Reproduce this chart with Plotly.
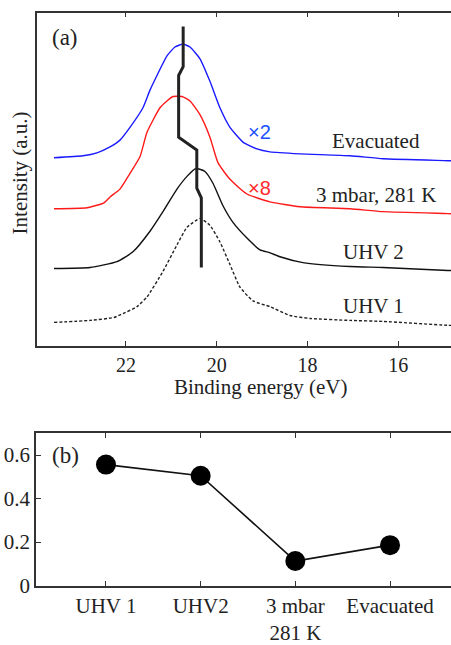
import plotly.graph_objects as go

# ---- Panel (a): photoemission spectra (binding energy in eV, intensity in a.u. incl. vertical offsets) ----
evac_x = [23.586, 22.947, 22.639, 22.352, 22.132, 21.912, 21.626, 21.471, 21.317, 21.097, 20.921,
          20.744, 20.590, 20.370, 20.150, 19.930, 19.709, 19.423, 19.115, 18.828, 18.167, 17.066,
          16.339, 14.907, 14.137]
evac_y = [19.2, 19.4, 19.7, 20.3, 21.0, 22.3, 24.3, 26.1, 27.6, 29.6, 30.5,
          30.8, 30.5, 29.3, 27.0, 24.3, 22.3, 20.8, 20.1, 19.8, 19.6, 19.4,
          19.1, 18.9, 18.8]

mbar_x = [23.586, 22.859, 22.485, 22.352, 22.132, 21.912, 21.692, 21.537, 21.251, 21.097, 20.965,
          20.767, 20.590, 20.370, 20.150, 19.974, 19.709, 19.335, 18.828, 18.167, 17.066, 16.339,
          14.907, 14.137]
mbar_y = [14.0, 14.1, 14.6, 15.2, 16.0, 17.6, 19.3, 21.8, 24.3, 25.0, 25.45,
          25.45, 25.0, 23.6, 21.3, 18.7, 17.0, 15.5, 14.7, 14.2, 14.0, 13.7,
          13.5, 13.4]

uhv2_x = [23.586, 22.793, 22.198, 21.846, 21.471, 21.185, 20.877, 20.656, 20.458, 20.260, 20.084,
          19.863, 19.643, 19.335, 19.048, 18.828, 18.608, 18.101, 17.066, 16.339, 14.907, 14.137]
uhv2_y = [7.9, 8.0, 8.6, 9.6, 11.7, 13.7, 16.0, 17.3, 18.1, 17.8, 16.6,
          14.3, 12.6, 11.0, 9.8, 9.5, 9.1, 8.5, 8.1, 8.0, 7.7, 7.6]

uhv1_x = [23.586, 22.793, 22.264, 22.066, 21.758, 21.537, 21.185, 20.877, 20.656, 20.370, 20.150,
          19.930, 19.709, 19.489, 19.203, 18.828, 18.388, 17.947, 17.066, 16.339, 14.907, 14.137]
uhv1_y = [2.4, 2.6, 2.9, 3.3, 4.0, 5.0, 7.6, 10.3, 12.1, 13.0, 12.3,
          10.6, 8.3, 6.0, 4.6, 4.0, 3.1, 2.8, 2.6, 2.5, 2.1, 2.0]

# peak-position guide line
peak_x = [20.74, 20.74, 20.84, 20.84, 20.44, 20.44, 20.34, 20.34]
peak_y = [32.6, 28.5, 27.6, 21.3, 20.0, 16.1, 15.1, 8.0]

# ---- Panel (b) ----
cond_labels = ["UHV 1", "UHV2", "3 mbar<br>281 K", "Evacuated"]
ratio_vals = [0.556, 0.505, 0.113, 0.186]

SERIF = "Liberation Serif, Times New Roman, serif"
SANS = "Liberation Sans, Arial, sans-serif"
AX = "#333333"

fig = go.Figure()

spl = dict(shape="spline", smoothing=0.5)
fig.add_trace(go.Scatter(x=evac_x, y=evac_y, mode="lines", line=dict(color="#1a1aff", width=1.4, **spl),
                         xaxis="x", yaxis="y", showlegend=False))
fig.add_trace(go.Scatter(x=mbar_x, y=mbar_y, mode="lines", line=dict(color="#ff1a1a", width=1.4, **spl),
                         xaxis="x", yaxis="y", showlegend=False))
fig.add_trace(go.Scatter(x=uhv2_x, y=uhv2_y, mode="lines", line=dict(color="#111111", width=1.4, **spl),
                         xaxis="x", yaxis="y", showlegend=False))
fig.add_trace(go.Scatter(x=uhv1_x, y=uhv1_y, mode="lines",
                         line=dict(color="#222222", width=1.4, dash="3px,2px", **spl),
                         xaxis="x", yaxis="y", showlegend=False))
fig.add_trace(go.Scatter(x=peak_x, y=peak_y, mode="lines", line=dict(color="#222222", width=3),
                         xaxis="x", yaxis="y", showlegend=False))

fig.add_trace(go.Scatter(x=cond_labels, y=ratio_vals, mode="lines+markers",
                         line=dict(color="#111111", width=1.6),
                         marker=dict(color="#000000", size=20),
                         xaxis="x2", yaxis="y2", showlegend=False))

fig.update_layout(
    width=451, height=645,
    margin=dict(l=0, r=0, t=0, b=0),
    paper_bgcolor="white", plot_bgcolor="white",
    font=dict(family=SERIF, size=21, color="#222222"),
    xaxis=dict(domain=[37 / 451, 1], range=[23.96, 14.84], anchor="y",
               tickvals=[22, 20, 18, 16], ticks="inside", ticklen=5, tickcolor=AX,
               showline=True, linecolor=AX, linewidth=1.5, mirror="ticks",
               showgrid=False, zeroline=False, tickfont=dict(family=SERIF, size=20)),
    yaxis=dict(domain=[1 - 353 / 645, 1 - 13 / 645], range=[0, 34], anchor="x",
               showticklabels=False, ticks="", showline=True, linecolor=AX, linewidth=1.5,
               showgrid=False, zeroline=False),
    xaxis2=dict(domain=[36 / 451, 1], range=[-0.739, 3.644], anchor="y2", type="category",
                ticks="inside", ticklen=5, tickcolor=AX,
                showline=True, linecolor=AX, linewidth=1.5, mirror="ticks",
                showgrid=False, zeroline=False, tickfont=dict(family=SERIF, size=21)),
    yaxis2=dict(domain=[1 - 597.7 / 645, 1 - 441.7 / 645], range=[0, 0.702], anchor="x2",
                tickvals=[0, 0.2, 0.4, 0.6], ticktext=["0", "0.2", "0.4", "0.6"],
                ticks="inside", ticklen=5, tickcolor=AX,
                showline=True, linecolor=AX, linewidth=1.5,
                showgrid=False, zeroline=False, tickfont=dict(family=SERIF, size=21)),
)

def ann(text, px, py, size=20, color="#222222", family=SERIF, angle=0, xanchor="center"):
    fig.add_annotation(text=text, x=px / 451, y=1 - py / 645, xref="paper", yref="paper",
                       showarrow=False, xanchor=xanchor, yanchor="middle", textangle=angle,
                       font=dict(family=family, size=size, color=color))

ann("(a)", 65, 38, size=23)
ann("(b)", 65, 465, size=23)
ann("Intensity (a.u.)", 20, 177, size=21, angle=-90)
ann("Binding energy (eV)", 260, 395, size=21)
ann("×2", 259, 135, size=20, color="#2050ff", family=SANS)
ann("×8", 259, 192, size=20, color="#ff2a2a", family=SANS)
ann("Evacuated", 376, 144, size=21)
ann("3 mbar, 281 K", 376, 199, size=21)
ann("UHV 2", 373, 257, size=21)
ann("UHV 1", 373, 312, size=21)

fig.write_html("out.html")
